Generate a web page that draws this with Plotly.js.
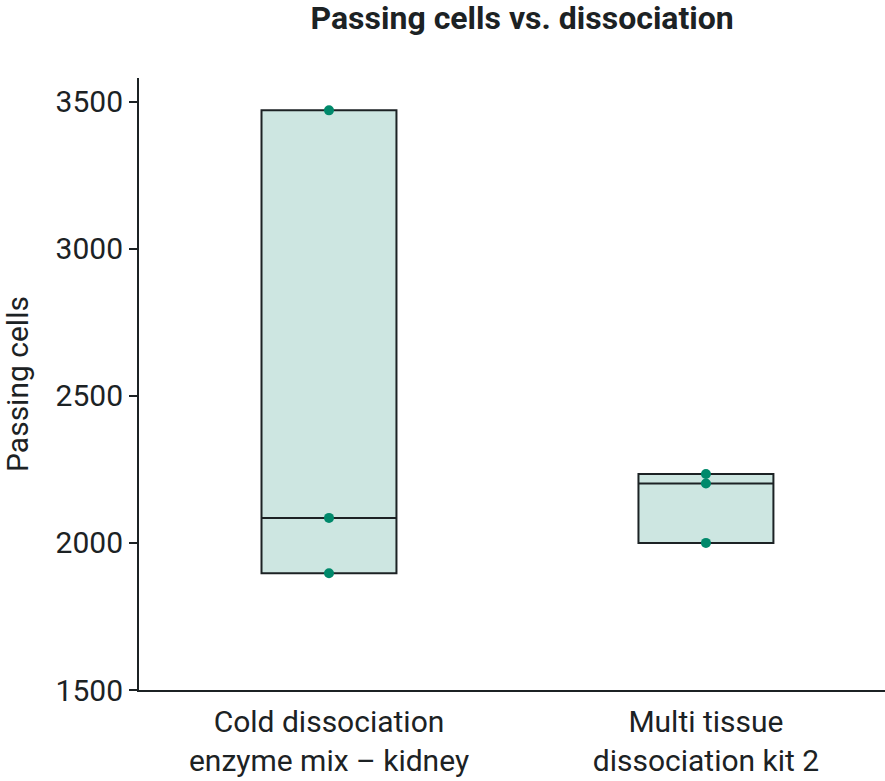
<!DOCTYPE html>
<html>
<head>
<meta charset="utf-8">
<script src="https://cdn.plot.ly/plotly-3.0.1.min.js"></script>
<style>html,body{margin:0;padding:0;background:#fff;}#chart{width:885px;height:781px;}</style>
</head>
<body>
<div id="chart"></div>
<script>
const categories = ["Cold dissociation<br>enzyme mix – kidney", "Multi tissue<br>dissociation kit 2"];
const coldValues = [3470, 2085, 1897];
const multiValues = [2234, 2202, 2000];
const yTicks = [1500, 2000, 2500, 3000, 3500];

const xs = [];
const ys = [];
coldValues.forEach(v => { xs.push(categories[0]); ys.push(v); });
multiValues.forEach(v => { xs.push(categories[1]); ys.push(v); });

const trace = {
  type: 'box',
  x: xs,
  y: ys,
  quartilemethod: 'exclusive',
  boxpoints: 'all',
  jitter: 0,
  pointpos: 0,
  width: 0.358,
  fillcolor: '#cde6e1',
  line: {color: '#1c2224', width: 2},
  marker: {color: '#00896b', size: 10},
  hoverinfo: 'skip',
  showlegend: false
};

const layout = {
  width: 885,
  height: 781,
  margin: {l: 139, r: 0, t: 78, b: 91},
  paper_bgcolor: '#ffffff',
  plot_bgcolor: '#ffffff',
  font: {family: 'Roboto, sans-serif', color: '#1c2224', size: 30},
  title: {
    text: '<b>Passing cells vs. dissociation</b>',
    font: {family: 'Roboto, sans-serif', size: 32, color: '#1c2224'},
    x: 0.59, xanchor: 'center', y: 0.977, yanchor: 'middle'
  },
  xaxis: {
    type: 'category',
    range: [-0.504, 1.475],
    showline: true, linecolor: '#1c2224', linewidth: 2,
    ticks: '', showgrid: false, zeroline: false,
    ticklabelstandoff: 4,
    tickfont: {size: 30}
  },
  yaxis: {
    title: {text: 'Passing cells', font: {size: 30}, standoff: 18},
    range: [1500, 3580],
    tickvals: yTicks,
    ticktext: yTicks.map(String),
    showline: true, linecolor: '#1c2224', linewidth: 2,
    ticks: 'outside', ticklen: 8, tickwidth: 2, tickcolor: '#1c2224',
    showgrid: false, zeroline: false,
    tickfont: {size: 30}
  }
};

Plotly.newPlot('chart', [trace], layout, {displayModeBar: false, staticPlot: true});
</script>
</body>
</html>
